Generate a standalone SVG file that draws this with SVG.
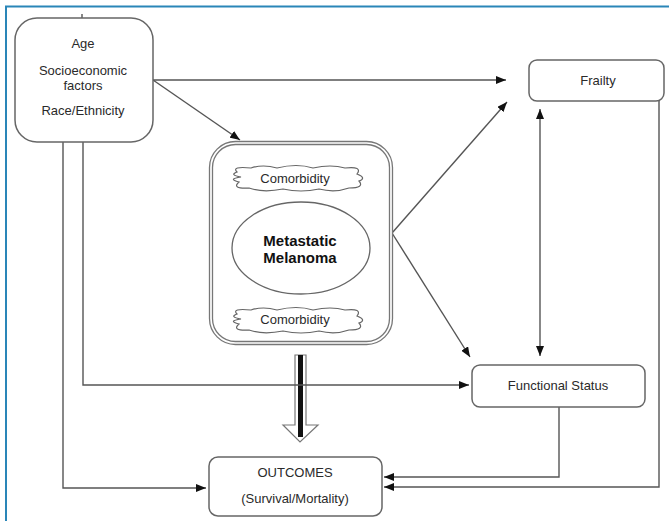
<svg xmlns="http://www.w3.org/2000/svg" width="669" height="521" viewBox="0 0 669 521">
<style>
text{font-family:"Liberation Sans",Arial,sans-serif;font-size:13px;fill:#2a2a2a;text-anchor:middle}
.b{font-weight:bold;font-size:15px;fill:#111}
.box{fill:#fff;stroke:#666;stroke-width:1.5}
.ln{fill:none;stroke:#555;stroke-width:1.4}
.cl{fill:#fff;stroke:#666;stroke-width:1.2}
</style>
<defs>
<marker id="ah" viewBox="0 0 10 8" refX="10" refY="4" markerWidth="10" markerHeight="8" markerUnits="userSpaceOnUse" orient="auto-start-reverse">
<path d="M0,0 L10,4 L0,8 Z" fill="#111"/>
</marker>
<path id="cloud" d="M -60,-6 Q -66,-12 -46,-10 Q -34,-14 -20,-10 Q 0,-15 16,-10 Q 34,-14 48,-10 Q 66,-12 60,-4 Q 70,0 62,3 Q 68,10 52,10 Q 38,15 22,11 Q 4,15 -14,11 Q -34,15 -48,10 Q -66,11 -58,4 Q -70,1 -56,-1 Q -68,-3 -60,-6 Z"/>
</defs>
<rect width="669" height="521" fill="#fff"/>
<path d="M6,521 V6.5 H669" fill="none" stroke="#2a86b8" stroke-width="2"/>

<g id="connectors">
<line class="ln" x1="82" y1="14" x2="82" y2="19"/>
<polyline class="ln" points="153,80 506,80" marker-end="url(#ah)"/>
<polyline class="ln" points="153,80 240,140" marker-end="url(#ah)"/>
<polyline class="ln" points="392,233 507,102" marker-end="url(#ah)"/>
<polyline class="ln" points="392,233 470,357" marker-end="url(#ah)"/>
<polyline class="ln" points="540,109 540,356" marker-start="url(#ah)" marker-end="url(#ah)"/>
<polyline class="ln" points="63,142 63,488 206,488" marker-end="url(#ah)"/>
<polyline class="ln" points="659,101 659,487 384,487" marker-end="url(#ah)"/>
<polyline class="ln" points="559,407 559,477 384,477" marker-end="url(#ah)"/>
<g id="bigarrow">
<polygon points="295,355 306,355 306,425 318,425 300,442 283,425 295,425" fill="#fff" stroke="#777" stroke-width="1.2"/>
<rect x="298" y="355" width="5" height="82" fill="#111"/>
</g>
<polyline class="ln" points="83,142 83,385 469,385" marker-end="url(#ah)"/>
</g>

<g id="demographics">
<rect class="box" x="15" y="18" width="138" height="124" rx="22"/>
<text x="83" y="48">Age</text>
<text x="83" y="75">Socioeconomic</text>
<text x="83" y="90">factors</text>
<text x="83" y="115">Race/Ethnicity</text>
</g>

<g id="melanoma-box">
<rect x="209.5" y="141.5" width="183" height="203" rx="26" fill="#fff" stroke="#777" stroke-width="1.3"/>
<rect x="212.5" y="144.5" width="177" height="197" rx="23" fill="none" stroke="#777" stroke-width="1.3"/>
</g>
<g id="comorbidity-top">
<use href="#cloud" x="297" y="178" class="cl"/>
<text x="295" y="183">Comorbidity</text>
</g>
<g id="melanoma">
<ellipse cx="301" cy="248" rx="69" ry="46" fill="#fff" stroke="#666" stroke-width="1.3"/>
<text class="b" x="300" y="246">Metastatic</text>
<text class="b" x="300" y="263">Melanoma</text>
</g>
<g id="comorbidity-bottom">
<use href="#cloud" x="297" y="320" class="cl"/>
<text x="295" y="324">Comorbidity</text>
</g>

<g id="frailty">
<rect class="box" x="529" y="60" width="135" height="41" rx="8"/>
<text x="598" y="85">Frailty</text>
</g>

<g id="functional-status">
<rect class="box" x="472" y="365" width="173" height="42" rx="8"/>
<text x="558" y="390">Functional Status</text>
</g>

<g id="outcomes">
<rect class="box" x="209" y="457" width="173" height="59" rx="9"/>
<text x="295" y="477">OUTCOMES</text>
<text x="295" y="503">(Survival/Mortality)</text>
</g>
</svg>
